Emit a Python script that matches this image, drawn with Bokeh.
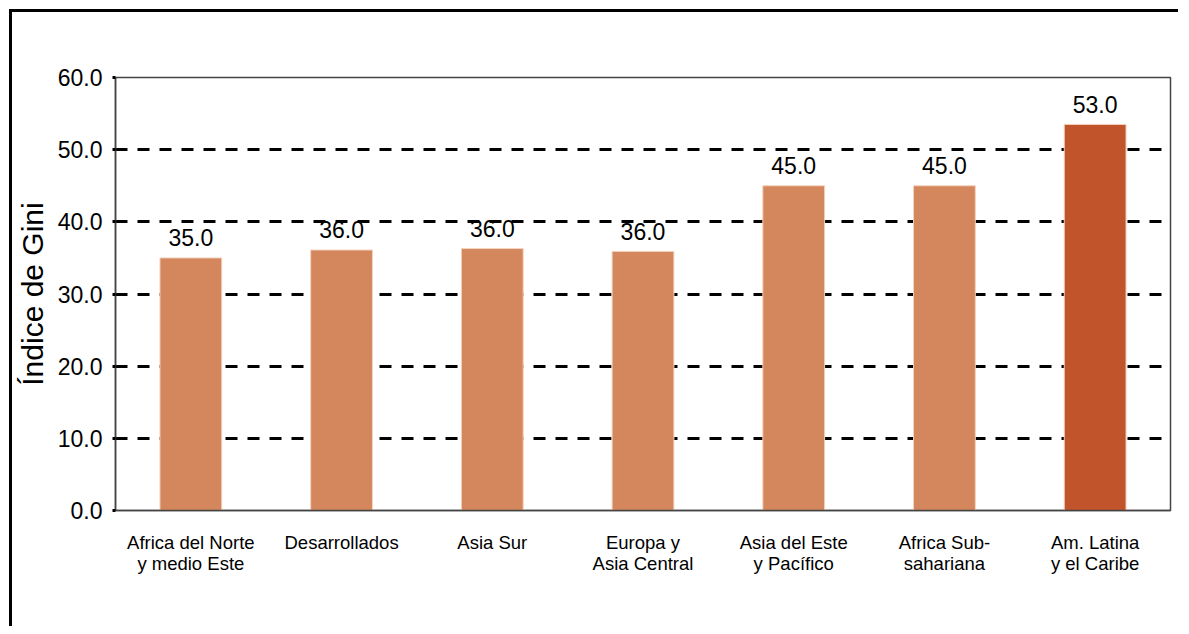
from bokeh.plotting import figure
from bokeh.models import ColumnDataSource, FixedTicker, NumeralTickFormatter, Range1d, FactorRange
from bokeh.core.properties import value
from bokeh.embed import file_html
from bokeh.resources import INLINE

categories = ["Africa del Norte\ny medio Este", "Desarrollados", "Asia Sur",
              "Europa y\nAsia Central", "Asia del Este\ny Pacífico",
              "Africa Sub-\nsahariana", "Am. Latina\ny el Caribe"]
gini_values = [35.0, 36.1, 36.3, 35.9, 45.0, 45.0, 53.5]
value_labels = ["35.0", "36.0", "36.0", "36.0", "45.0", "45.0", "53.0"]
bar_colors = ["#D4875C", "#D4875C", "#D4875C", "#D4875C", "#D4875C", "#D4875C", "#C1542A"]
y_ticks = [0, 10, 20, 30, 40, 50, 60]
grid_ticks = [10, 20, 30, 40, 50]

FONT = "Liberation Sans"

src = ColumnDataSource(dict(cat=categories, val=gini_values, lab=value_labels, col=bar_colors))

p = figure(x_range=FactorRange(*categories, range_padding=0.0), y_range=Range1d(0, 60),
           frame_width=1055, frame_height=433,
           min_border_left=102, min_border_top=65, min_border_right=8, min_border_bottom=116,
           output_backend="svg", toolbar_location=None,
           styles={"border-top": "3px solid #000", "border-left": "3px solid #000",
                   "margin-left": "9px", "margin-top": "9px"})

p.vbar(x="cat", top="val", width=0.41, bottom=0, source=src,
       fill_color="col", line_color="#F3D3BF", line_width=1)

p.text(x="cat", y="val", text="lab", source=src, text_align="center",
       text_baseline="alphabetic", y_offset=-20, text_font=value(FONT),
       text_font_size="23px", text_color="#000000")

p.outline_line_color = "#444444"
p.outline_line_width = 1.5

p.xgrid.grid_line_color = None
p.ygrid.ticker = FixedTicker(ticks=grid_ticks)
p.ygrid.grid_line_color = "#000000"
p.ygrid.grid_line_width = 3
p.ygrid.grid_line_dash = "12 10"

p.yaxis.ticker = FixedTicker(ticks=y_ticks)
p.yaxis.formatter = NumeralTickFormatter(format="0.0")
p.yaxis.major_label_text_font = FONT
p.yaxis.major_label_text_font_size = "23px"
p.yaxis.major_label_text_color = "#000000"
p.yaxis.major_tick_out = 3
p.yaxis.major_tick_in = 0
p.yaxis.major_tick_line_color = "#000000"
p.yaxis.major_tick_line_width = 3
p.yaxis.minor_tick_line_color = None
p.yaxis.major_label_standoff = 10
p.yaxis.axis_line_color = "#444444"
p.yaxis.axis_line_width = 1.5
p.yaxis.axis_label = "Índice de Gini"
p.yaxis.axis_label_text_font = FONT
p.yaxis.axis_label_text_font_size = "30px"
p.yaxis.axis_label_text_font_style = "normal"
p.yaxis.axis_label_text_color = "#000000"
p.yaxis.axis_label_standoff = 6

p.xaxis.major_label_text_font = FONT
p.xaxis.major_label_text_font_size = "18.5px"
p.xaxis.major_label_text_color = "#000000"
p.xaxis.major_label_text_line_height = 1.0
p.xaxis.major_tick_line_color = None
p.xaxis.minor_tick_line_color = None
p.xaxis.major_label_standoff = 15
p.xaxis.axis_line_color = "#444444"
p.xaxis.axis_line_width = 1.5
p.xaxis.major_label_orientation = "horizontal"

open("out.html", "w").write(file_html(p, INLINE))
